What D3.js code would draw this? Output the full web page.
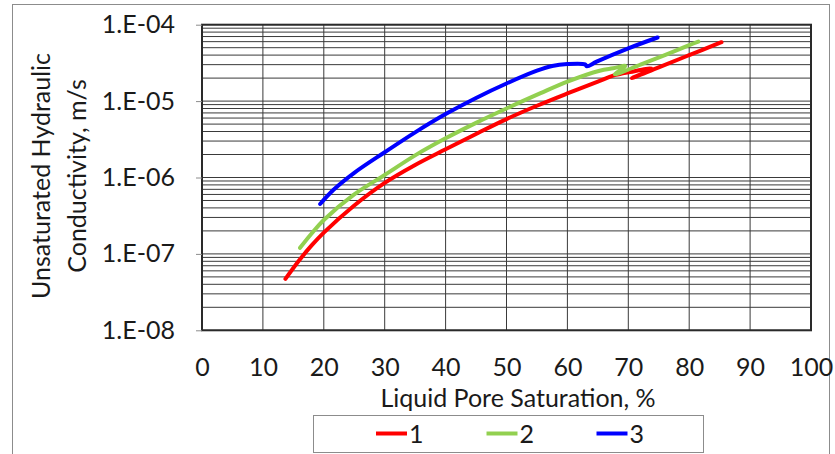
<!DOCTYPE html>
<meta charset="utf-8">
<script src="https://cdn.jsdelivr.net/npm/d3@7"></script>
<html>
<head>
<style>
body { margin: 0; background: white; }
svg text { font-family: Lato, "Open Sans", sans-serif; fill: #1a1a1a; }
</style>
</head>
<body>
<div id="chart"></div>
<script>

  // data: saturation (%) and conductivity (m/s)
  var seriesNames = ["1", "2", "3"];
  var seriesColors = ["#ff0000", "#92d050", "#0000ff"];

  var sat1 = [13.7, 16, 18, 20, 25, 30, 35, 40, 45, 50, 55, 60, 65, 67.5, 70.3, 73.8, 70.6, 75, 80, 85.3];
  var k1   = [4.7e-8, 8.3e-8, 1.29e-7, 1.9e-7, 4.3e-7, 8.5e-7, 1.46e-6, 2.34e-6, 3.72e-6, 5.82e-6, 8.7e-6, 1.26e-5, 1.8e-5, 2.15e-5, 2.4e-5, 2.66e-5, 2.0e-5, 2.77e-5, 4.0e-5, 5.9e-5];

  var sat2 = [16.1, 18, 20, 25, 30, 35, 40, 45, 50, 55.5, 60, 65.3, 67.5, 69.5, 67.8, 72, 76, 80, 81.5];
  var k2   = [1.2e-7, 1.85e-7, 2.78e-7, 6.0e-7, 1.08e-6, 1.95e-6, 3.26e-6, 5.19e-6, 8.0e-6, 1.26e-5, 1.8e-5, 2.5e-5, 2.69e-5, 2.88e-5, 2.24e-5, 3.0e-5, 4.0e-5, 5.4e-5, 6.0e-5];

  var sat3 = [19.4, 21.6, 25, 30, 35, 40, 45, 50, 55, 57.5, 60, 62.9, 63.2, 64.8, 70, 74.8];
  var k3   = [4.5e-7, 6.9e-7, 1.15e-6, 2.14e-6, 3.9e-6, 6.76e-6, 1.1e-5, 1.7e-5, 2.5e-5, 2.88e-5, 3.05e-5, 3.02e-5, 2.85e-5, 3.28e-5, 4.9e-5, 6.8e-5];

  var xTicks = [0, 10, 20, 30, 40, 50, 60, 70, 80, 90, 100];
  var yTicks = [1e-8, 1e-7, 1e-6, 1e-5, 1e-4];
  var yTickLabels = ["1.E-08", "1.E-07", "1.E-06", "1.E-05", "1.E-04"];

  var series = [
    { name: seriesNames[0], color: seriesColors[0], values: sat1.map(function(s, i) { return { x: s, y: k1[i] }; }) },
    { name: seriesNames[1], color: seriesColors[1], values: sat2.map(function(s, i) { return { x: s, y: k2[i] }; }) },
    { name: seriesNames[2], color: seriesColors[2], values: sat3.map(function(s, i) { return { x: s, y: k3[i] }; }) }
  ];

  var W = 835, H = 454;
  var plot = { left: 202, right: 811, top: 24.7, bottom: 330.3 };

  var svg = d3.select("#chart")
    .append("svg")
      .attr("width", W)
      .attr("height", H);

  // outer frame
  svg.append("rect")
    .attr("x", 12.5).attr("y", 4.5)
    .attr("width", 817).attr("height", 470)
    .attr("fill", "white")
    .attr("stroke", "#8c8c8c")
    .attr("stroke-width", 1);

  var x = d3.scaleLinear().domain([0, 100]).range([plot.left, plot.right]);
  var y = d3.scaleLog().domain([1e-8, 1e-4]).range([plot.bottom, plot.top]);

  // minor + major horizontal grid
  var gridVals = [];
  for (var e = -8; e < -4; e++) {
    for (var m = 1; m < 10; m++) gridVals.push(m * Math.pow(10, e));
  }
  gridVals.push(1e-4);

  svg.append("g")
    .selectAll("line")
    .data(gridVals)
    .enter()
    .append("line")
      .attr("x1", plot.left).attr("x2", plot.right)
      .attr("y1", function(d) { return y(d); })
      .attr("y2", function(d) { return y(d); })
      .attr("stroke", "#3a3a3a")
      .attr("stroke-width", 1);

  // vertical grid
  svg.append("g")
    .selectAll("line")
    .data(xTicks)
    .enter()
    .append("line")
      .attr("x1", function(d) { return x(d); })
      .attr("x2", function(d) { return x(d); })
      .attr("y1", plot.top).attr("y2", plot.bottom)
      .attr("stroke", "#3a3a3a")
      .attr("stroke-width", 1);

  // plot border
  svg.append("rect")
    .attr("x", plot.left).attr("y", plot.top)
    .attr("width", plot.right - plot.left)
    .attr("height", plot.bottom - plot.top)
    .attr("fill", "none")
    .attr("stroke", "#2a2a2a")
    .attr("stroke-width", 2);

  // y axis
  var yAxis = svg.append("g")
    .attr("transform", "translate(" + plot.left + ",0)")
    .call(d3.axisLeft(y)
      .tickValues(yTicks)
      .tickSize(6)
      .tickPadding(21)
      .tickFormat(function(d, i) { return yTickLabels[i]; }));
  yAxis.select(".domain").remove();
  yAxis.selectAll(".tick line").attr("stroke", "#8c8c8c");
  yAxis.selectAll(".tick text")
    .style("font-size", "25px")
    .attr("fill", "#1a1a1a");

  // x axis
  var xAxis = svg.append("g")
    .attr("transform", "translate(0," + plot.bottom + ")")
    .call(d3.axisBottom(x)
      .tickValues(xTicks)
      .tickSize(0)
      .tickPadding(28));
  xAxis.select(".domain").remove();
  xAxis.selectAll(".tick text")
    .style("font-size", "25px")
    .attr("fill", "#1a1a1a");

  // curves
  var line = d3.line()
    .curve(d3.curveCatmullRom.alpha(0.5))
    .x(function(d) { return x(d.x); })
    .y(function(d) { return y(d.y); });

  svg.append("g")
    .selectAll("path")
    .data(series)
    .enter()
    .append("path")
      .attr("fill", "none")
      .attr("stroke", function(d) { return d.color; })
      .attr("stroke-width", 4)
      .attr("stroke-linecap", "round")
      .attr("stroke-linejoin", "round")
      .attr("d", function(d) { return line(d.values); });

  // axis titles
  svg.append("text")
    .attr("x", 518)
    .attr("y", 407)
    .attr("text-anchor", "middle")
    .style("font-size", "25px")
    .text("Liquid Pore Saturation, %");

  var yt = svg.append("text")
    .attr("transform", "translate(50,176) rotate(-90)")
    .attr("text-anchor", "middle")
    .style("font-size", "25px");
  yt.append("tspan").attr("x", 0).attr("dy", 0).text("Unsaturated Hydraulic");
  yt.append("tspan").attr("x", 0).attr("dy", 36).text("Conductivity, m/s");

  // legend
  var legend = svg.append("g");
  legend.append("rect")
    .attr("x", 313.5).attr("y", 415.5)
    .attr("width", 390).attr("height", 37)
    .attr("fill", "white")
    .attr("stroke", "#8c8c8c")
    .attr("stroke-width", 1);

  var legendX = [376, 486.5, 596.5];
  var items = legend.selectAll("g.item")
    .data(series)
    .enter()
    .append("g")
      .attr("class", "item")
      .attr("transform", function(d, i) { return "translate(" + legendX[i] + ",433.5)"; });
  items.append("line")
    .attr("x1", 0).attr("x2", 31)
    .attr("y1", 0).attr("y2", 0)
    .attr("stroke", function(d) { return d.color; })
    .attr("stroke-width", 4);
  items.append("text")
    .attr("x", 33)
    .attr("y", 9)
    .style("font-size", "25px")
    .text(function(d) { return d.name; });

</script>
</body>
</html>
